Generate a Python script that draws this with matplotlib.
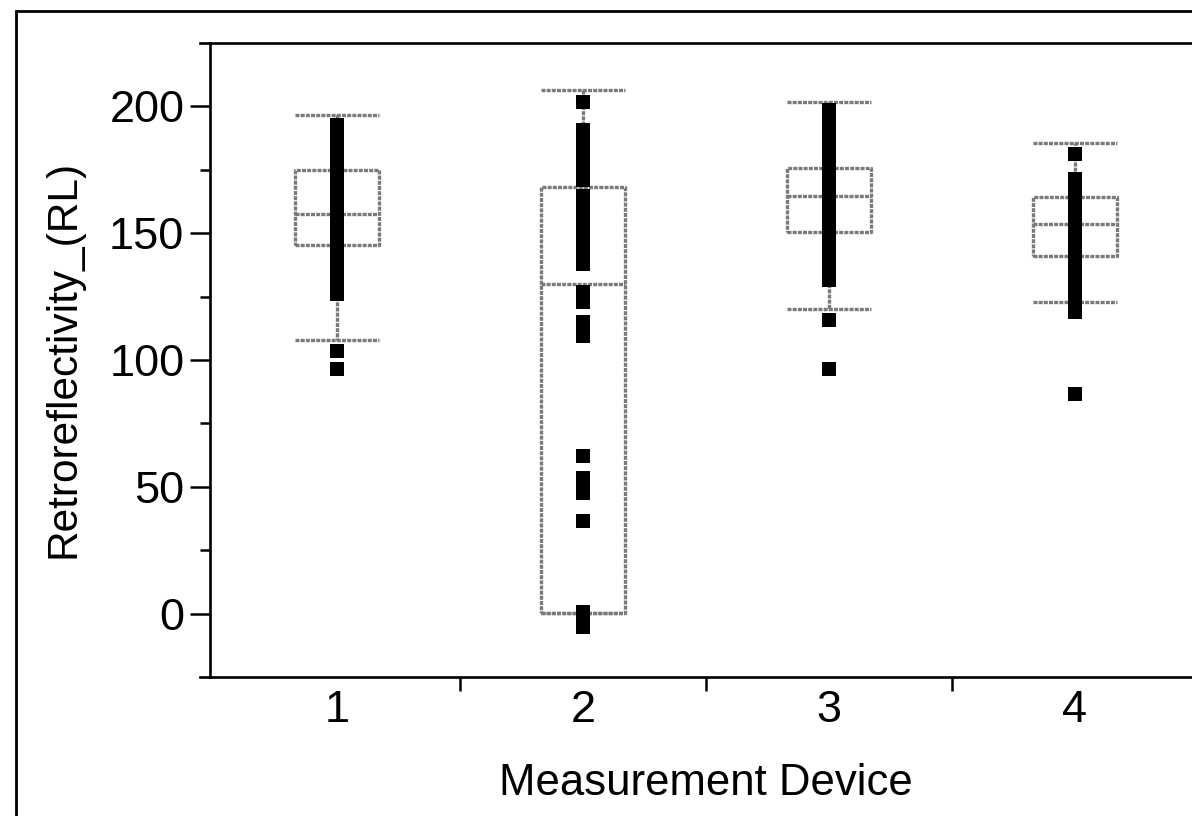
import matplotlib
matplotlib.use("Agg")
import matplotlib.pyplot as plt
from matplotlib.lines import Line2D
from matplotlib.patches import Rectangle
import numpy as np

plt.rcParams['font.family'] = ['Liberation Sans', 'DejaVu Sans']

# ---- data ----
devices = ["1", "2", "3", "4"]
whisker_low = [108.0, 0.4, 120.3, 122.7]
q1 = [145.4, 0.4, 150.3, 141.2]
median = [157.7, 129.8, 164.5, 153.5]
q3 = [174.8, 168.4, 175.9, 164.1]
whisker_high = [196.7, 206.3, 201.6, 185.4]

points_dev1 = [192.5, 189, 186, 183, 180, 177, 174, 171, 168, 165, 162, 159, 156,
               153, 150, 147, 144, 141, 138, 135, 132, 129, 126, 103.4, 96.4]
points_dev2 = [201.8, 190.5, 187.5, 184.5, 181.5, 178, 175, 171, 164.7,
               159, 156, 153, 150, 147, 144, 141, 137.9, 127, 123,
               115, 112, 109.3, 62, 53.4, 50.5, 47.5, 36.7, 0.6, -2.5, -5.3]
points_dev3 = [198.4, 195, 192, 189, 186, 183, 180, 177, 174, 171, 168, 165, 162,
               159, 156, 153, 150, 147, 144, 141, 138, 135, 131.4, 115.6, 96.4]
points_dev4 = [181.3, 171.2, 168, 165, 162, 159, 156, 153, 150, 147, 144, 141,
               138, 135, 132, 129, 126, 123, 119.1, 86.6]
points = [points_dev1, points_dev2, points_dev3, points_dev4]

W, H = 1192, 816
fig = plt.figure(figsize=(W / 100, H / 100), dpi=100)

ax_left, ax_right, ax_top, ax_bottom = 210, 1198, 43, 677
ax = fig.add_axes([ax_left / W, 1 - ax_bottom / H,
                   (ax_right - ax_left) / W, (ax_bottom - ax_top) / H])

box_color = '#7a7a7a'
ls = (0, (1.2, 0.35))
lw = 2.4
stats = []
for i in range(len(devices)):
    stats.append(dict(med=median[i], q1=q1[i], q3=q3[i],
                      whislo=whisker_low[i], whishi=whisker_high[i],
                      fliers=[], label=devices[i]))
ax.bxp(stats, positions=np.arange(1, len(devices) + 1), widths=0.34,
       showfliers=False,
       boxprops=dict(color=box_color, lw=lw, linestyle=ls),
       medianprops=dict(color=box_color, lw=lw, linestyle=ls),
       whiskerprops=dict(color=box_color, lw=lw, linestyle=ls),
       capprops=dict(color=box_color, lw=lw, linestyle=ls),
       capwidths=0.34, zorder=2)

for i, vals in enumerate(points):
    ax.plot(np.full(len(vals), i + 1), vals, 's', color='black',
            ms=10.3, mew=0, zorder=3)

ax.set_xlim(0.484, 4.5)
ax.set_ylim(-25, 225)

ax.set_xticks(np.arange(1, 5))
ax.set_xticklabels(devices)
ax.set_xticks([1.5, 2.5, 3.5], minor=True)
ax.tick_params(axis='x', which='major', length=0, pad=9, labelsize=32.5)
ax.tick_params(axis='x', which='minor', length=10, width=1.8, direction='out')

ax.set_yticks([0, 50, 100, 150, 200])
ax.set_yticks([25, 75, 125, 175], minor=True)
ax.tick_params(axis='y', which='major', length=14.5, width=1.8, pad=4, labelsize=32.5)
ax.tick_params(axis='y', which='minor', length=7.2, width=1.8)

for s in ['left', 'bottom', 'top']:
    ax.spines[s].set_linewidth(1.9)
ax.spines['right'].set_visible(False)

# extensions of top/bottom frame lines left of the axis
for yy in (ax_top, ax_bottom):
    fig.add_artist(Line2D([200 / W, ax_left / W], [1 - yy / H, 1 - yy / H],
                          color='black', lw=1.9, transform=fig.transFigure))

fig.text(64 / W, 1 - 359 / H, "Retroreflectivity_(RL)", rotation=90,
         ha='center', va='center', fontsize=30.5)
fig.text(706 / W, 1 - 795 / H, "Measurement Device", ha='center',
         va='baseline', fontsize=31.5)

# outer frame
fig.add_artist(Rectangle((16 / W, -0.1), 1.2, 1 - 11 / H + 0.1, fill=False,
                         edgecolor='black', lw=2, transform=fig.transFigure))

fig.savefig("out.png", dpi=100)
